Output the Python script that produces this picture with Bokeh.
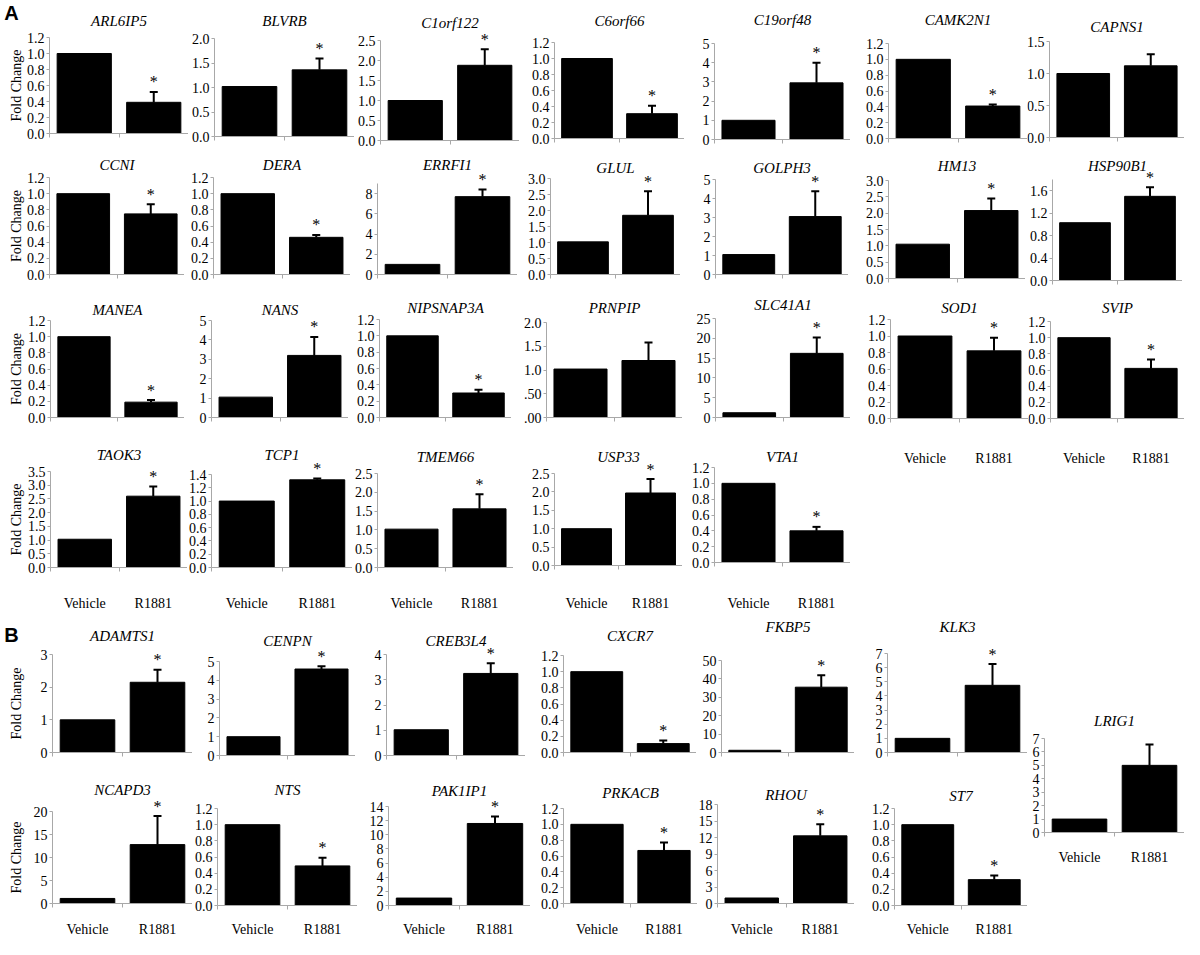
import math
from bokeh.plotting import figure
from bokeh.layouts import row, column
from bokeh.models import ColumnDataSource, FixedTicker, Whisker, TeeHead, Label, Range1d
from bokeh.embed import file_html
from bokeh.resources import INLINE
from bokeh.core.properties import value

# ---------------- data ----------------
groups = ["Vehicle", "R1881"]

genes = ["ARL6IP5", "BLVRB", "C1orf122", "C6orf66", "C19orf48", "CAMK2N1", "CAPNS1",
         "CCNI", "DERA", "ERRFI1", "GLUL", "GOLPH3", "HM13", "HSP90B1",
         "MANEA", "NANS", "NIPSNAP3A", "PRNPIP", "SLC41A1", "SOD1", "SVIP",
         "TAOK3", "TCP1", "TMEM66", "USP33", "VTA1",
         "ADAMTS1", "CENPN", "CREB3L4", "CXCR7", "FKBP5", "KLK3",
         "NCAPD3", "NTS", "PAK1IP1", "PRKACB", "RHOU", "ST7", "LRIG1"]

vehicle = [1.0, 1.02, 1.0, 1.0, 1.0, 1.0, 1.0,
           1.0, 1.0, 1.0, 1.02, 1.05, 1.05, 1.03,
           1.0, 1.05, 1.0, 1.02, 1.2, 1.0, 1.0,
           1.03, 1.0, 1.02, 1.0, 1.0,
           1.0, 1.0, 1.02, 1.0, 1.2, 1.0,
           1.1, 1.0, 1.05, 1.0, 1.0, 1.0, 1.0]

r1881 = [0.39, 1.36, 1.88, 0.31, 2.95, 0.41, 1.12,
         0.75, 0.46, 7.7, 1.85, 3.05, 2.08, 1.50,
         0.19, 3.2, 0.30, 1.2, 16.2, 0.82, 0.62,
         2.6, 1.32, 1.56, 1.97, 0.40,
         2.15, 4.6, 3.25, 0.11, 35.5, 4.75,
         12.8, 0.49, 11.6, 0.67, 12.3, 0.32, 5.0]

r1881_sem = [0.13, 0.23, 0.40, 0.10, 1.05, 0.02, 0.18,
             0.12, 0.03, 0.7, 0.75, 1.33, 0.37, 0.16,
             0.025, 0.95, 0.04, 0.38, 4.0, 0.16, 0.11,
             0.35, 0.02, 0.39, 0.38, 0.05,
             0.38, 0.15, 0.40, 0.04, 6.5, 1.5,
             6.2, 0.10, 1.0, 0.10, 2.1, 0.05, 1.55]

significant = [1, 1, 1, 1, 1, 1, 0,
               1, 1, 1, 1, 1, 1, 1,
               1, 1, 1, 0, 1, 1, 1,
               1, 1, 1, 1, 1,
               1, 1, 1, 1, 1, 1,
               1, 1, 1, 1, 1, 1, 0]

y_max = [1.2, 2.0, 2.5, 1.2, 5, 1.2, 1.5,
         1.2, 1.2, 9, 3.0, 5, 3.0, 1.8,
         1.2, 5, 1.2, 2.0, 25, 1.2, 1.2,
         3.5, 1.4, 2.5, 2.5, 1.2,
         3, 5, 4, 1.2, 50, 7,
         20, 1.2, 14, 1.2, 18, 1.2, 7]

y_step = [0.2, 0.5, 0.5, 0.2, 1, 0.2, 0.5,
          0.2, 0.2, 2, 0.5, 1, 0.5, 0.4,
          0.2, 1, 0.2, 0.5, 5, 0.2, 0.2,
          0.5, 0.2, 0.5, 0.5, 0.2,
          1, 1, 1, 0.2, 10, 1,
          5, 0.2, 2, 0.2, 3, 0.2, 1]

y_decimals = [1, 1, 1, 1, 0, 1, 1,
              1, 1, 0, 1, 0, 1, 1,
              1, 0, 1, 1, 0, 1, 1,
              1, 1, 1, 1, 1,
              0, 0, 0, 1, 0, 0,
              0, 1, 0, 1, 0, 1, 0]

special_tick_labels = {"PRNPIP": [".00", ".50", "1.0", "1.5", "2.0"]}
y_title = "Fold Change"

# ---------------- layout (page pixels) ----------------
# gene: (axis_x, end_x, top_y, base_y, title_y, label_y)
LAYOUT = {
    "ARL6IP5": (57, 196, 45, 141, 28, None),
    "BLVRB": (222, 362, 46, 144, 28, None),
    "C1orf122": (388, 527, 48, 148, 30, None),
    "C6orf66": (562, 692, 50, 146, 28, None),
    "C19orf48": (722, 858, 51, 147, 27, None),
    "CAMK2N1": (896, 1035, 51, 146, 27, None),
    "CAPNS1": (1057, 1192, 49, 145, 34, None),
    "CCNI": (57, 192, 185, 282, 172, None),
    "DERA": (221, 358, 185, 282, 172, None),
    "ERRFI1": (385, 525, 191, 282, 172, None),
    "GLUL": (558, 688, 186, 282, 175, None),
    "GOLPH3": (723, 856, 187, 282, 175, None),
    "HM13": (896, 1033, 188, 286, 173, None),
    "HSP90B1": (1060, 1190, 187, 288, 173, None),
    "MANEA": (58, 192, 328, 425, 317, None),
    "NANS": (219, 356, 328, 425, 317, None),
    "NIPSNAP3A": (387, 519, 327, 425, 315, None),
    "PRNPIP": (554, 690, 330, 425, 315, None),
    "SLC41A1": (723, 858, 326, 425, 312, None),
    "SOD1": (898, 1036, 327, 426, 315, 462),
    "SVIP": (1058, 1192, 329, 426, 315, 462),
    "TAOK3": (58, 195, 479, 575, 462, 607),
    "TCP1": (219, 360, 482, 575, 462, 607),
    "TMEM66": (385, 521, 481, 575, 464, 607),
    "USP33": (562, 690, 481, 573, 464, 607),
    "VTA1": (722, 858, 475, 570, 464, 607),
    "ADAMTS1": (60, 200, 662, 760, 643, None),
    "CENPN": (227, 363, 669, 763, 648, None),
    "CREB3L4": (394, 533, 662, 763, 648, None),
    "CXCR7": (571, 704, 663, 760, 643, None),
    "FKBP5": (729, 862, 668, 760, 634, None),
    "KLK3": (895, 1035, 661, 760, 634, None),
    "NCAPD3": (60, 200, 819, 911, 797, 933),
    "NTS": (225, 365, 816, 913, 797, 933),
    "PAK1IP1": (396, 538, 814, 913, 798, 933),
    "PRKACB": (571, 705, 816, 911, 800, 933),
    "RHOU": (725, 862, 812, 911, 802, 933),
    "ST7": (902, 1035, 816, 913, 803, 933),
    "LRIG1": (1052, 1192, 746, 840, 728, 861),
}
YLABEL_X = 24

SERIF = "Liberation Serif"
GRAY = "#a8a8a8"


def make_fig(gene, left, row_top, row_bottom, ylabel=False, letter=None):
    i = genes.index(gene)
    ax, ex, ty, by, tty, ly = LAYOUT[gene]
    nx = len(groups)
    ym = y_max[i]
    sx = nx / (ex - ax)          # data units per pixel (x)
    sy = ym / (by - ty)          # data units per pixel (y)

    def dx(px):
        return (px - ax) * sx

    def dy(py):
        return (by - py) * sy

    p = figure(width=ex - left, height=row_bottom - row_top,
               x_range=Range1d(dx(left), nx), y_range=Range1d(dy(row_bottom), dy(row_top)),
               output_backend="svg", toolbar_location=None, title=None,
               min_border_left=0, min_border_right=0,
               min_border_top=0, min_border_bottom=0)
    p.outline_line_color = None
    p.xgrid.visible = False
    p.ygrid.visible = False
    p.background_fill_color = "white"
    p.border_fill_color = "white"

    xs = [k + 0.5 for k in range(nx)]
    src = ColumnDataSource(dict(x=xs, top=[vehicle[i], r1881[i]]))
    p.vbar(x="x", top="top", bottom=0, width=0.78, source=src,
           fill_color="black", line_color="black")

    up = r1881[i] + r1881_sem[i]
    esrc = ColumnDataSource(dict(x=[xs[1]], lower=[r1881[i]], upper=[up]))
    w = Whisker(base="x", lower="lower", upper="upper", source=esrc,
                dimension="height", line_color="black", line_width=2,
                upper_head=TeeHead(size=8, line_color="black", line_width=2),
                lower_head=None)
    p.add_layout(w)
    if significant[i]:
        ssrc = ColumnDataSource(dict(x=[xs[1]], y=[up], t=["*"]))
        p.text(x="x", y="y", text="t", source=ssrc, text_align="center",
               text_baseline="alphabetic", y_offset=-10,
               text_font=value(SERIF), text_font_size="16px", text_color="black")

    # y axis (drawn at x = 0)
    step = y_step[i]
    n = int(math.floor(ym / step + 1e-9))
    ticks = [round(k * step, 6) for k in range(n + 1)]
    if gene in special_tick_labels:
        labs = special_tick_labels[gene]
    else:
        labs = [f"{t:.{y_decimals[i]}f}" for t in ticks]
    ya = p.yaxis[0]
    ya.fixed_location = 0
    ya.bounds = (0, ym)
    ya.ticker = FixedTicker(ticks=ticks)
    ya.major_label_overrides = {t: l for t, l in zip(ticks, labs)}
    ya.axis_line_color = GRAY
    ya.major_tick_line_color = GRAY
    ya.major_tick_out = 3
    ya.major_tick_in = 0
    ya.minor_tick_out = 0
    ya.minor_tick_in = 0
    ya.major_label_standoff = 2
    ya.major_label_text_font = SERIF
    ya.major_label_text_font_size = "14px"
    ya.major_label_text_color = "black"

    # x axis (drawn at y = 0)
    xa = p.xaxis[0]
    xa.fixed_location = 0
    xa.bounds = (0, nx)
    xa.ticker = FixedTicker(ticks=xs, minor_ticks=list(range(nx + 1)))
    if ly is not None:
        xa.major_label_overrides = {x: g for x, g in zip(xs, groups)}
        xa.major_label_standoff = max(ly - by - 8, 0)
    else:
        xa.major_label_overrides = {x: "" for x in xs}
        xa.major_label_standoff = 0
    xa.axis_line_color = GRAY
    xa.major_tick_out = 0
    xa.major_tick_in = 0
    xa.minor_tick_out = 4
    xa.minor_tick_in = 0
    xa.minor_tick_line_color = GRAY
    xa.major_label_text_font = SERIF
    xa.major_label_text_font_size = "14px"
    xa.major_label_text_color = "black"

    # title (gene name)
    p.add_layout(Label(x=nx / 2, y=dy(tty), text=gene,
                       text_align="center", text_baseline="middle",
                       text_font=SERIF, text_font_style="italic",
                       text_font_size="15px", text_color="black"))
    if ylabel:
        p.add_layout(Label(x=dx(YLABEL_X), y=ym / 2, text=y_title, angle=math.pi / 2,
                           text_align="center", text_baseline="middle",
                           text_font=SERIF, text_font_size="14px", text_color="black"))
    if letter is not None:
        lx, lyy, txt = letter
        p.add_layout(Label(x=dx(lx), y=dy(lyy), text=txt,
                           text_align="center", text_baseline="middle",
                           text_font="Liberation Sans", text_font_style="bold",
                           text_font_size="20px", text_color="black"))
    return p


def build_row(names, start_x, row_top, row_bottom, letter=None):
    figs = []
    left = start_x
    for k, g in enumerate(names):
        figs.append(make_fig(g, left, row_top, row_bottom,
                             ylabel=(start_x == 8 and k == 0),
                             letter=letter if k == 0 else None))
        left = LAYOUT[g][1]
    return row(*figs, spacing=0)


rowA1 = build_row(genes[0:7], 8, 8, 160, letter=(19, 20, "A"))
rowA2 = build_row(genes[7:14], 8, 160, 300)
rowA3 = build_row(genes[14:19], 8, 300, 452)
rowA4 = build_row(genes[21:26], 8, 452, 622)
rowA3r = build_row(genes[19:21], 858, 300, 622)
blockA34 = row(column(rowA3, rowA4, spacing=0), rowA3r, spacing=0)

rowB1 = build_row(genes[26:32], 8, 622, 770, letter=(19, 642, "B"))
rowB2 = build_row(genes[32:38], 8, 770, 947)
lrig = build_row(genes[38:39], 1035, 622, 947)
blockB = row(column(rowB1, rowB2, spacing=0), lrig, spacing=0)

layout = column(rowA1, rowA2, blockA34, blockB, spacing=0)

open("out.html", "w").write(file_html(layout, INLINE))
